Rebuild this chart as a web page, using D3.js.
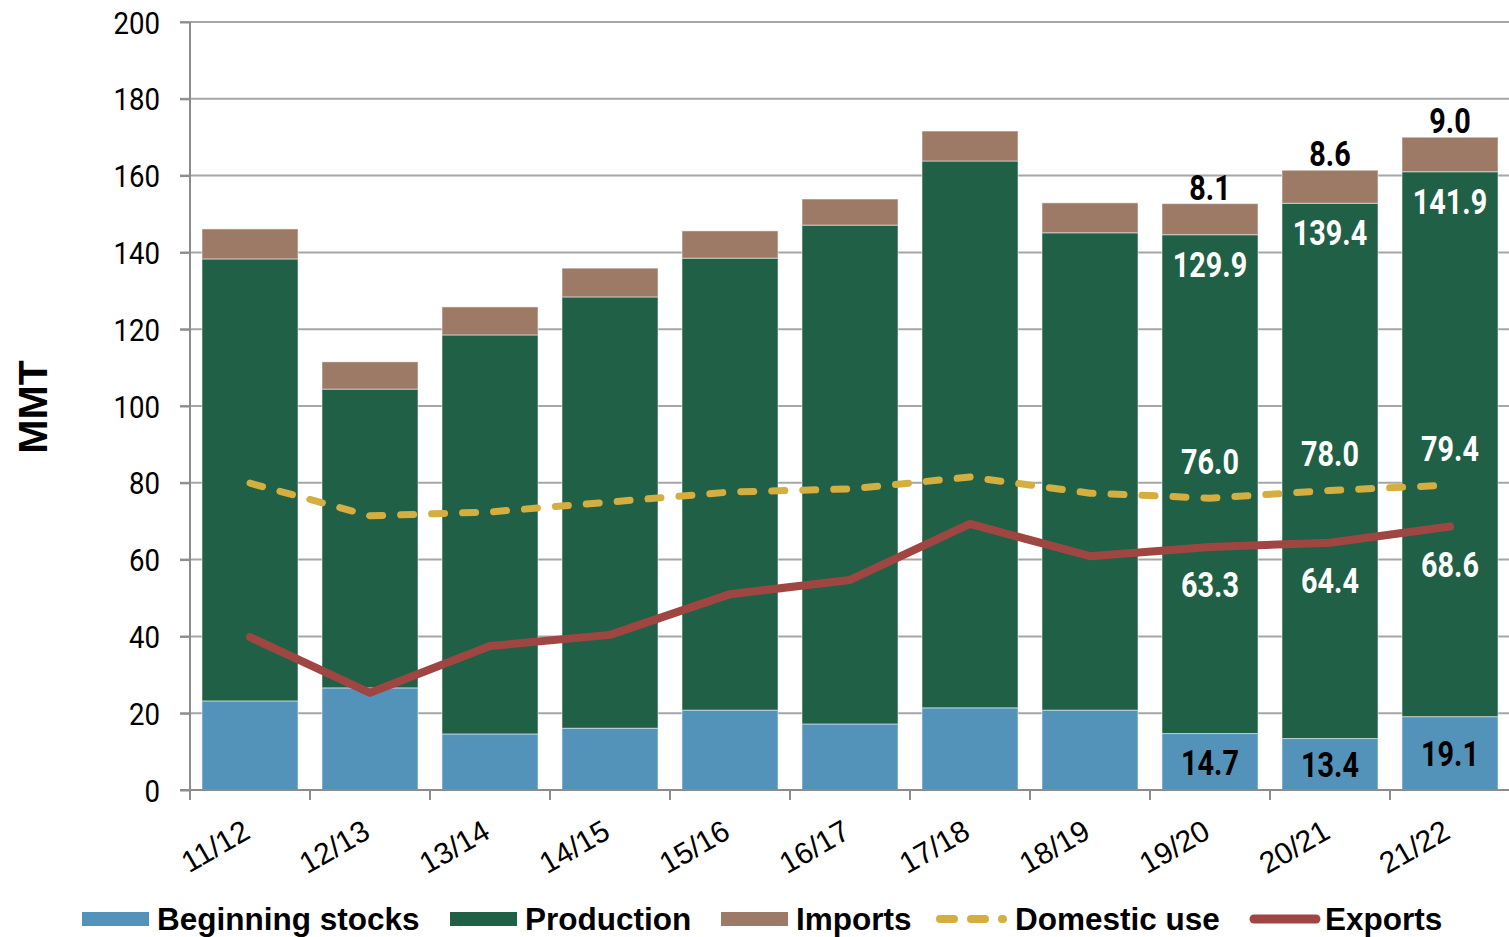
<!DOCTYPE html>
<html>
<head>
<meta charset="utf-8">
<script src="https://cdn.jsdelivr.net/npm/d3@7/dist/d3.min.js"></script>
<style>
  html, body { margin: 0; padding: 0; background: #fff; }
  svg { display: block; }
</style>
</head>
<body>
<svg id="chart" width="1509" height="937"></svg>
<script>
const categories = ["11/12","12/13","13/14","14/15","15/16","16/17","17/18","18/19","19/20","20/21","21/22"];
const beginningStocks = [23.2, 26.6, 14.6, 16.1, 20.8, 17.2, 21.4, 20.8, 14.7, 13.4, 19.1];
const production      = [115.1, 77.8, 103.9, 112.3, 117.7, 129.9, 142.4, 124.3, 129.9, 139.4, 141.9];
const imports         = [7.8, 7.1, 7.3, 7.5, 7.1, 6.8, 7.8, 7.8, 8.1, 8.6, 9.0];
const domesticUse     = [79.9, 71.4, 72.4, 75.0, 77.6, 78.4, 81.5, 77.3, 76.0, 78.0, 79.4];
const exportsData     = [39.8, 25.3, 37.5, 40.4, 51.0, 54.7, 69.3, 60.9, 63.3, 64.4, 68.6];
const yTicks = [0, 20, 40, 60, 80, 100, 120, 140, 160, 180, 200];
const labelledFrom = 8; // index of first year with data labels

const colors = { stocks: "#5393BA", prod: "#206046", imp: "#9C7A66", dom: "#D4AF3F", exp: "#A04642" };
const condFont = "Roboto, 'Liberation Sans', sans-serif";
const sansFont = "'Liberation Sans', Arial, sans-serif";

const svg = d3.select("#chart");
const mLeft = 190, mRight = 1510, mTop = 22, mBottom = 790;

const x = d3.scaleBand().domain(categories).range([mLeft, mRight]).paddingInner(0.2).paddingOuter(0.1);
const y = d3.scaleLinear().domain([0, 200]).range([mBottom, mTop]);

// gridlines
svg.append("g").selectAll("line").data(yTicks.filter(d => d > 0)).join("line")
  .attr("x1", mLeft - 10).attr("x2", 1509)
  .attr("y1", d => y(d)).attr("y2", d => y(d))
  .attr("stroke", "#A6A6A6").attr("stroke-width", 2);

// stacked data
const rows = categories.map((c, i) => ({ cat: c, stocks: beginningStocks[i], prod: production[i], imp: imports[i] }));
const stack = d3.stack().keys(["stocks", "prod", "imp"])(rows);

svg.append("g").selectAll("g").data(stack).join("g")
  .attr("fill", d => colors[d.key])
  .selectAll("rect").data(d => d).join("rect")
  .attr("x", d => x(d.data.cat))
  .attr("width", x.bandwidth())
  .attr("y", d => y(d[1]))
  .attr("height", d => y(d[0]) - y(d[1]))
  .attr("stroke", "rgba(255,255,255,0.5)").attr("stroke-width", 1);

// axes
const tickScale = 0.89;
const yAxis = d3.axisLeft(y).tickValues(yTicks).tickSize(10).tickPadding(20);
const gy = svg.append("g").attr("transform", `translate(${mLeft},0)`).call(yAxis);
gy.select(".domain").attr("stroke", "#8C8C8C").attr("stroke-width", 2).attr("d", `M0,${mTop}V${mBottom + 10}`);
gy.selectAll(".tick line").attr("stroke", "#8C8C8C").attr("stroke-width", 2);
gy.selectAll(".tick text")
  .attr("font-family", condFont).attr("font-size", 31).attr("fill", "#000")
  .attr("dy", "0.36em").attr("x", -30 / tickScale)
  .attr("transform", `scale(${tickScale},1)`);

const xb = d3.scaleBand().domain(categories).range([mLeft, mRight]);
const gx = svg.append("g").attr("transform", `translate(0,${mBottom})`);
gx.append("line").attr("x1", mLeft - 10).attr("x2", 1509).attr("y1", 0).attr("y2", 0)
  .attr("stroke", "#8C8C8C").attr("stroke-width", 2);
gx.selectAll("line.tk").data(categories).join("line").attr("class", "tk")
  .attr("x1", d => xb(d)).attr("x2", d => xb(d)).attr("y1", 0).attr("y2", 10)
  .attr("stroke", "#8C8C8C").attr("stroke-width", 2);
gx.selectAll("text").data(categories).join("text")
  .attr("transform", d => `translate(${x(d) + x.bandwidth() / 2 + 2},${47}) rotate(-30)`)
  .attr("text-anchor", "end")
  .attr("font-family", sansFont)
  .attr("font-size", 30).attr("fill", "#000")
  .text(d => d);

// lines
const cx = d => x(d) + x.bandwidth() / 2;
const line = d3.line().x(d => cx(d.cat)).y(d => y(d.v));
const domPts = categories.map((c, i) => ({ cat: c, v: domesticUse[i] }));
const expPts = categories.map((c, i) => ({ cat: c, v: exportsData[i] }));

svg.append("path").datum(domPts).attr("d", line)
  .attr("fill", "none").attr("stroke", colors.dom).attr("stroke-width", 7)
  .attr("stroke-dasharray", "13,18").attr("stroke-linecap", "round").attr("stroke-linejoin", "round");
svg.append("path").datum(expPts).attr("d", line)
  .attr("fill", "none").attr("stroke", colors.exp).attr("stroke-width", 8)
  .attr("stroke-linecap", "round").attr("stroke-linejoin", "round");

// data labels
const labScale = 0.8;
const lab = svg.append("g").attr("font-family", condFont).attr("font-weight", "bold").attr("font-size", 36).attr("text-anchor", "middle");
function addLabel(xc, yy, txt, fill, dy) {
  lab.append("text").attr("transform", `translate(${xc},${yy}) scale(${labScale},1)`)
    .attr("dy", dy || 0).attr("fill", fill).text(txt);
}
categories.forEach((c, i) => {
  if (i < labelledFrom) return;
  const xc = cx(c);
  const s1 = beginningStocks[i], p1 = s1 + production[i], t1 = p1 + imports[i];
  addLabel(xc, (y(0) + y(s1)) / 2, beginningStocks[i].toFixed(1), "#000", "0.36em");
  addLabel(xc, y(p1) + 42, production[i].toFixed(1), "#fff");
  addLabel(xc, y(t1) - 4, imports[i].toFixed(1), "#000");
  addLabel(xc, y(domesticUse[i]) - 24, domesticUse[i].toFixed(1), "#fff");
  addLabel(xc, y(exportsData[i]) + 50, exportsData[i].toFixed(1), "#fff");
});

// y title
svg.append("text").attr("transform", "translate(47,407) rotate(-90)")
  .attr("text-anchor", "middle").attr("font-family", sansFont)
  .attr("font-weight", "bold").attr("font-size", 41).attr("fill", "#000").text("MMT");

// legend
const legendItems = [
  { name: "Beginning stocks", type: "rect", color: colors.stocks, x: 82 },
  { name: "Production", type: "rect", color: colors.prod, x: 450 },
  { name: "Imports", type: "rect", color: colors.imp, x: 721 },
  { name: "Domestic use", type: "dash", color: colors.dom, x: 940 },
  { name: "Exports", type: "line", color: colors.exp, x: 1250 }
];
const lg = svg.append("g");
legendItems.forEach(it => {
  const g = lg.append("g").attr("transform", `translate(${it.x},919)`);
  if (it.type === "rect") {
    g.append("rect").attr("x", 0).attr("y", -7).attr("width", 67).attr("height", 14).attr("fill", it.color);
  } else if (it.type === "dash") {
    g.append("line").attr("x1", 0).attr("x2", 63).attr("y1", 0).attr("y2", 0)
      .attr("stroke", it.color).attr("stroke-width", 8).attr("stroke-linecap", "round").attr("stroke-dasharray", "14,17");
  } else {
    g.append("line").attr("x1", 4).attr("x2", 66).attr("y1", 0).attr("y2", 0)
      .attr("stroke", it.color).attr("stroke-width", 9).attr("stroke-linecap", "round");
  }
  g.append("text").attr("x", 75).attr("y", 11)
    .attr("font-family", sansFont).attr("font-weight", "bold")
    .attr("font-size", 31.5).attr("fill", "#000").text(it.name);
});
</script>
</body>
</html>
